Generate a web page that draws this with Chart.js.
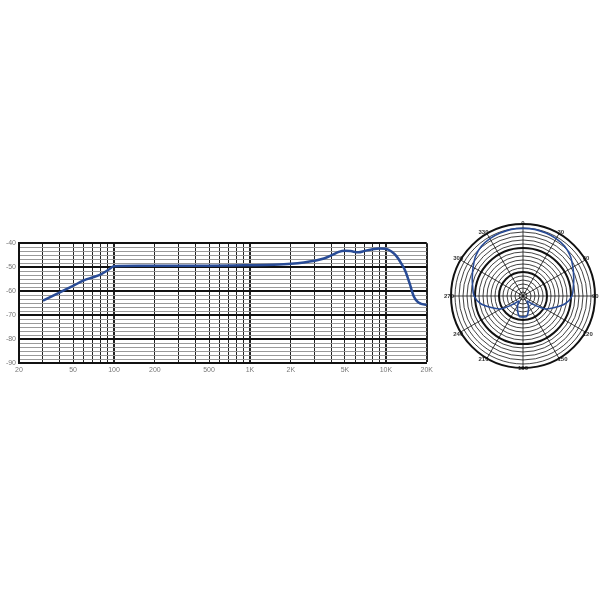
<!DOCTYPE html>
<html>
<head>
<meta charset="utf-8">
<script src="https://cdn.jsdelivr.net/npm/chart.js@4.4.1/dist/chart.umd.min.js"></script>
<style>
  body { margin: 0; background: #fff; }
  #freq { position: absolute; left: 0; top: 236px; }
  #polar { position: absolute; left: 437px; top: 211px; }
</style>
</head>
<body>
<canvas id="freq" width="436" height="145"></canvas>
<canvas id="polar" width="170" height="170"></canvas>
<script>
// frequency response (Hz / dB)
const freqs = [30, 40, 50, 60, 70, 80, 90, 100, 150, 200, 500, 1000, 1500, 2000, 3000, 3500, 4000, 4500, 5000, 5500, 6300, 7000, 8000, 9000, 10000, 11000, 12000, 13000, 14000, 15000, 16000, 17000, 18000, 20000];
const response = [-64, -60.5, -57.8, -55.5, -54.2, -53, -51.3, -49.6, -49.4, -49.4, -49.4, -49.2, -49, -48.6, -47.3, -46.4, -45, -43.6, -43.1, -43.3, -43.8, -43.2, -42.5, -42.2, -42.3, -43.5, -45.5, -48.5, -52, -57, -62, -64.3, -65.2, -65.8];
const gridFreqs = [20, 30, 40, 50, 60, 70, 80, 90, 100, 200, 300, 400, 500, 600, 700, 800, 900, 1000, 2000, 3000, 4000, 5000, 6000, 7000, 8000, 9000, 10000, 20000];
const labelFreqs = [20, 50, 100, 200, 500, 1000, 2000, 5000, 10000, 20000];
const labelText = ['20', '50', '100', '200', '500', '1K', '2K', '5K', '10K', '20K'];
// six grid divisions per 10 dB
const dbGrid = [];
for (let k = 0; k <= 30; k++) dbGrid.push(-90 + (k * 10) / 6);

// polar pattern (degrees / ring units 0..30)
const angles = [0, 10, 20, 30, 40, 50, 60, 70, 80, 90, 100, 110, 120, 130, 140, 150, 160, 170, 180, 190, 200, 210, 220, 230, 240, 250, 260, 270, 280, 290, 300, 310, 320, 330, 340, 350];
const pattern = [28.2, 28.2, 27.9, 27.6, 27, 25.8, 24, 22.5, 21.3, 20.4, 18, 14.1, 10.8, 5.4, 2.7, 4.5, 6.6, 8.7, 8.7, 8.7, 6.6, 4.5, 2.7, 5.4, 10.8, 14.1, 18, 20.4, 21.3, 22.5, 24, 25.8, 27, 27.6, 27.9, 28.2];
const rings = [];
for (let k = 0; k <= 18; k++) rings.push((k * 10) / 6);

const labelFont = { family: 'Liberation Sans, Arial, sans-serif', size: 7 };
const blue = '#284b96';
const isMajor = v => Math.abs(v / 10 - Math.round(v / 10)) < 1e-6;

new Chart(document.getElementById('freq'), {
  type: 'line',
  data: {
    datasets: [{
      data: freqs.map((f, i) => ({ x: f, y: response[i] })),
      borderColor: blue,
      borderWidth: 2.5,
      pointRadius: 0,
      cubicInterpolationMode: 'monotone'
    }]
  },
  options: {
    responsive: false,
    animation: false,
    devicePixelRatio: 1,
    layout: { padding: { top: 4, right: 6, left: 0, bottom: 0 } },
    plugins: { legend: { display: false }, tooltip: { enabled: false } },
    scales: {
      x: {
        type: 'logarithmic',
        min: 20,
        max: 20000,
        afterBuildTicks: s => { s.ticks = gridFreqs.map(v => ({ value: v })); },
        afterFit: s => { s.height = 18; },
        ticks: {
          autoSkip: false,
          maxRotation: 0,
          padding: 3,
          color: '#777',
          font: labelFont,
          callback: v => {
            const i = labelFreqs.indexOf(v);
            return i >= 0 ? labelText[i] : '';
          }
        },
        grid: {
          drawTicks: false,
          color: '#222',
          lineWidth: c => [100, 1000, 10000, 20000].includes(c.tick.value) ? 2 : 1
        },
        border: { color: '#111', width: 2 }
      },
      y: {
        min: -90,
        max: -40,
        afterBuildTicks: s => { s.ticks = dbGrid.map(v => ({ value: v })); },
        afterFit: s => { s.width = 19; },
        ticks: {
          autoSkip: false,
          padding: 3,
          color: '#777',
          font: labelFont,
          callback: v => isMajor(v) ? String(Math.round(v)) : ''
        },
        grid: {
          drawTicks: false,
          color: c => isMajor(c.tick.value) ? '#111' : '#999',
          lineWidth: c => isMajor(c.tick.value) ? 2 : 1
        },
        border: { color: '#111', width: 2 }
      }
    }
  }
});

new Chart(document.getElementById('polar'), {
  type: 'radar',
  data: {
    labels: angles.map(String),
    datasets: [{
      data: pattern,
      borderColor: blue,
      borderWidth: 1.6,
      pointRadius: 0,
      fill: false,
      tension: 0.3
    }]
  },
  options: {
    responsive: false,
    animation: false,
    devicePixelRatio: 1,
    layout: { padding: 6 },
    plugins: { legend: { display: false }, tooltip: { enabled: false } },
    scales: {
      r: {
        min: 0,
        max: 30,
        afterBuildTicks: s => { s.ticks = rings.map(v => ({ value: v })); },
        ticks: { display: false },
        grid: {
          circular: true,
          color: '#111',
          lineWidth: c => isMajor(c.tick.value) ? 2 : 0.8
        },
        angleLines: {
          color: c => c.index % 3 === 0 ? '#111' : 'rgba(0,0,0,0)',
          lineWidth: 0.8
        },
        pointLabels: {
          padding: -3,
          color: '#333',
          font: { family: 'Liberation Sans, Arial, sans-serif', size: 6, weight: 'bold' },
          backdropColor: c => c.index % 3 === 0 ? '#fff' : 'rgba(0,0,0,0)',
          backdropPadding: 0,
          callback: (l, i) => i % 3 === 0 ? l : ''
        }
      }
    }
  }
});
</script>
</body>
</html>
